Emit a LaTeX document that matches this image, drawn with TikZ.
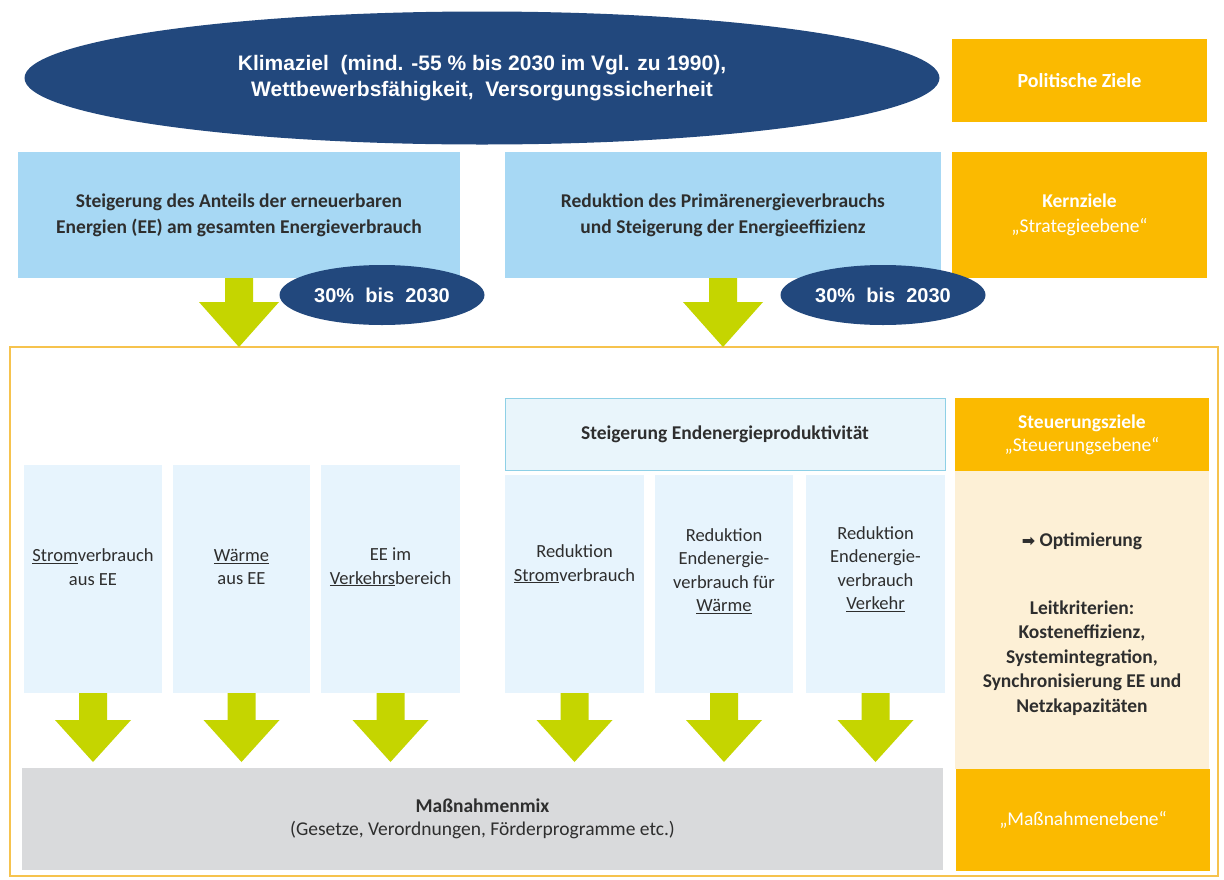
\documentclass[tikz,border=0pt]{standalone}
\usepackage{fontspec}
\setmainfont{Carlito}
\newfontfamily\arialf{Liberation Sans}
\newfontfamily\djv{DejaVu Sans}
\usetikzlibrary{calc,shapes.geometric}
\definecolor{navy}{HTML}{22487D}
\definecolor{topblue}{HTML}{A7D8F4}
\definecolor{colblue}{HTML}{E7F4FD}
\definecolor{prodfill}{HTML}{E9F5FB}
\definecolor{prodline}{HTML}{8ED0E6}
\definecolor{orng}{HTML}{FBBA00}
\definecolor{cream}{HTML}{FDF0D6}
\definecolor{greybox}{HTML}{D9DADC}
\definecolor{arrowgreen}{HTML}{C5D500}
\definecolor{framecol}{HTML}{F6C34E}
\definecolor{txt}{HTML}{2E2E2E}
\newcommand\blockarrow[5]{% from, to, half shaft, half head, head length
  \fill[arrowgreen] let \p1=(#1), \p2=(#2) in
    (\x1-#3pt,\y1) -- (\x1+#3pt,\y1) -- (\x1+#3pt,\y2+#5pt) -- (\x1+#4pt,\y2+#5pt)
    -- (\x1,\y2) -- (\x1-#4pt,\y2+#5pt) -- (\x1-#3pt,\y2+#5pt) -- cycle;}
\tikzset{
  base/.style={inner sep=0pt, outer sep=0pt, align=center},
  topbox/.style={base, fill=topblue, anchor=north west, text=txt, font=\bfseries\fontsize{19.5}{26}\selectfont},
  orbox/.style={base, fill=orng, anchor=north west, text=white, font=\fontsize{19.5}{25}\selectfont},
  colbox/.style={base, fill=colblue, anchor=north west},
  coltext/.style={base, text=txt, font=\fontsize{18.5}{23.5}\selectfont},
  blob/.style={ellipse, fill=navy, text=white, inner sep=0pt, align=center, font=\arialf\bfseries\fontsize{20}{24}\selectfont},
  sidetext/.style={base, text=txt, font=\bfseries\fontsize{19.5}{24.5}\selectfont}
}
\begin{document}
\begin{tikzpicture}[x=1pt,y=-1pt]
\useasboundingbox (0,0) rectangle (1224,879);
\fill[white] (0,0) rectangle (1224,879);

% top level
\node[blob, minimum width=915, minimum height=133, font=\arialf\bfseries\fontsize{21}{26}\selectfont] (klima) at (482,78)
  {Klimaziel \ (mind. -55 \% bis 2030 im Vgl. zu 1990),\\ Wettbewerbsfähigkeit, \ Versorgungssicherheit};
\node[orbox, minimum width=255, minimum height=83, font=\bfseries\fontsize{20}{24}\selectfont] (polz) at (952,39) {Politische Ziele};

% core goals
\node[topbox, minimum width=442, minimum height=126] (ee) at (18,152)
  {Steigerung des Anteils der erneuerbaren\\Energien (EE) am gesamten Energieverbrauch};
\node[topbox, minimum width=436, minimum height=126] (pev) at (505,152)
  {Reduktion des Primärenergieverbrauchs\\und Steigerung der Energieeffizienz};
\node[orbox, minimum width=255, minimum height=126] (kern) at (952,152)
  {\textbf{Kernziele}\\„Strategieebene“};

% frame
\node[base, draw=framecol, line width=1.5pt, anchor=north west, minimum width=1208, minimum height=529] (frame) at (10,347) {};

\blockarrow{ee.south}{ee.south |- frame.north}{14}{40}{45}
\blockarrow{pev.south}{pev.south |- frame.north}{14}{40}{45}

\node[blob, minimum width=205, minimum height=60] (q1) at (382,295) {30\% \ bis \ 2030};
\node[blob, minimum width=205, minimum height=60] (q2) at (883,295) {30\% \ bis \ 2030};

% steering level
\node[base, fill=prodfill, draw=prodline, line width=1pt, anchor=north west, minimum width=440, minimum height=72,
  text=txt, font=\bfseries\fontsize{19.5}{24}\selectfont] (prod) at (505,398) {Steigerung Endenergieproduktivität};
\node[orbox, minimum width=254, minimum height=73, font=\fontsize{19.5}{23}\selectfont] (steu) at (955,398)
  {\textbf{Steuerungsziele}\\„Steuerungsebene“};
\node[base, fill=cream, anchor=north west, minimum width=254, minimum height=298] (krit) at (955,471) {};
\node[sidetext] (opt) at (1082,541) {{\djv\fontsize{16}{16}\selectfont ➡}\ Optimierung};
\node[sidetext] (leit) at (1082,658)
  {Leitkriterien:\\Kosteneffizienz,\\Systemintegration,\\Synchronisierung EE und\\Netzkapazitäten};

% columns
\node[colbox, minimum width=138, minimum height=228] (c1) at (24,465) {};
\node[colbox, minimum width=137, minimum height=228] (c2) at (173,465) {};
\node[colbox, minimum width=139, minimum height=228] (c3) at (321,465) {};
\node[colbox, minimum width=139, minimum height=218] (c4) at (505,475) {};
\node[colbox, minimum width=138, minimum height=218] (c5) at (655,475) {};
\node[colbox, minimum width=139, minimum height=218] (c6) at (806,475) {};

\node[coltext] (c1t) at ($(c1.center)+(0,-12)$) {\underline{Strom}verbrauch\\aus EE};
\node[coltext] (c2t) at ($(c2.center)+(0,-12)$) {\underline{Wärme}\\aus EE};
\node[coltext] (c3t) at ($(c3.center)+(0,-12)$) {EE im\\\underline{Verkehrs}bereich};
\node[coltext] (c4t) at ($(c4.center)+(0,-20)$) {Reduktion\\\underline{Strom}verbrauch};
\node[coltext] (c5t) at ($(c5.center)+(0,-13)$) {Reduktion\\Endenergie-\\verbrauch für\\\underline{Wärme}};
\node[coltext] (c6t) at ($(c6.center)+(0,-15)$) {Reduktion\\Endenergie-\\verbrauch\\\underline{Verkehr}};

% measures level
\coordinate (tipline) at (0,762);
\foreach \c in {c1,c2,c3,c4,c5,c6}{
  \blockarrow{\c.south}{\c.south |- tipline}{14}{38}{42}
}
\node[base, fill=greybox, anchor=north west, minimum width=921, minimum height=102, text=txt,
  font=\fontsize{19.5}{23}\selectfont] (mix) at (22,768)
  {\textbf{Maßnahmenmix}\\(Gesetze, Verordnungen, Förderprogramme etc.)};
\node[orbox, minimum width=254, minimum height=102] (mass) at (956,769) {„Maßnahmenebene“};
\end{tikzpicture}
\end{document}
